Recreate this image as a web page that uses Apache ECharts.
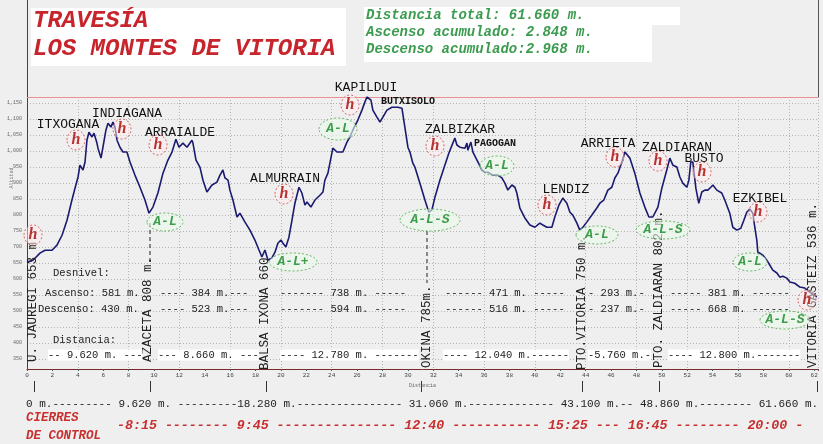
<!DOCTYPE html>
<html><head><meta charset="utf-8">
<script src="https://cdn.jsdelivr.net/npm/echarts/dist/echarts.min.js"></script>
<style>html,body{margin:0;padding:0;background:#efefef}#c{width:823px;height:444px}</style>
</head><body><div id="c"></div>
<script>
const distKm = [0,0.47,1.02,1.42,1.97,2.36,2.76,3.15,3.54,3.78,4.02,4.17,4.41,4.57,4.72,4.88,5.12,5.28,5.51,5.59,5.83,5.98,6.22,6.38,6.61,6.77,6.93,7.09,7.32,7.56,7.87,8.11,8.50,8.90,9.29,9.61,9.92,10.31,10.71,11.10,11.42,11.73,11.97,12.28,12.60,12.99,13.07,13.31,13.62,13.86,14.17,14.57,14.96,15.20,15.43,15.59,15.83,15.98,16.22,16.54,16.77,17.17,17.56,17.95,18.27,18.50,18.74,18.98,19.29,19.53,19.76,20.0,20.16,20.39,20.63,20.87,21.10,21.42,21.65,21.89,22.05,22.36,22.68,23.07,23.31,23.46,23.70,24.09,24.41,24.65,24.88,25.20,25.43,25.67,26.06,26.38,26.61,26.77,27.09,27.24,27.56,27.80,28.03,28.35,28.74,29.21,29.53,29.76,30.0,30.16,30.39,30.55,30.94,31.34,31.65,31.89,32.13,32.52,32.91,33.23,33.54,33.70,33.86,34.09,34.49,34.65,34.72,34.96,35.12,35.51,35.83,36.06,36.30,36.69,37.09,37.40,37.64,37.87,38.19,38.43,38.58,38.82,39.21,39.61,40.0,40.39,40.63,40.94,41.34,41.57,41.89,42.20,42.52,42.76,42.99,43.31,43.54,43.78,44.09,44.49,44.88,45.12,45.43,45.75,46.06,46.30,46.54,46.85,47.09,47.24,47.48,47.87,48.27,48.66,48.98,49.29,49.69,50.0,50.39,50.63,50.87,51.18,51.42,51.65,51.97,52.13,52.28,52.44,52.68,52.91,53.15,53.39,53.62,53.86,54.02,54.33,54.72,54.96,55.35,55.59,55.91,56.22,56.46,56.69,56.93,57.17,57.32,57.48,57.56,57.72,57.95,58.27,58.50,58.74,59.06,59.29,59.53,59.84,60.08,60.47,60.87,61.26,61.65,62.20];
const elevM = [653,659,681,690,690,706,737,784,847,884,919,956,941,966,1034,1059,1044,1056,1025,1009,978,1012,1066,1087,1075,1091,1075,1034,1012,997,997,966,925,887,847,806,825,869,931,972,997,1037,1012,1025,1012,1034,1025,972,950,909,872,894,903,925,941,916,909,878,847,794,806,778,753,722,691,669,691,659,666,684,712,722,712,700,731,784,837,887,869,831,841,825,847,862,872,909,931,1009,997,997,997,1028,1044,1066,1097,1128,1153,1169,1159,1128,1106,1091,1106,1128,1137,1137,1134,1075,1012,997,962,950,900,847,809,816,856,909,956,994,1025,1041,1019,1012,1009,1025,1003,1028,997,966,941,934,934,925,925,916,900,878,894,887,869,822,791,769,762,775,769,762,762,794,831,853,837,809,800,775,753,762,778,800,822,837,847,878,887,916,931,966,997,997,978,931,869,825,794,794,825,884,941,978,956,950,919,900,887,909,966,966,884,837,872,878,878,887,894,878,869,847,806,762,753,759,784,809,819,806,762,722,684,681,675,659,644,628,619,606,609,603,591,587,575,572,559,544];

const titleLines = ['TRAVESÍA', 'LOS MONTES DE VITORIA'];
const statLines = ['Distancia total: 61.660 m.', 'Ascenso acumulado: 2.848 m.', 'Descenso acumulado:2.968 m.'];
const peakNames = ['ITXOGANA','INDIAGANA','ARRAIALDE','ALMURRAIN','KAPILDUI','BUTXISOLO','ZALBIZKAR','PAGOGAN','LENDIZ','ARRIETA','ZALDIARAN','BUSTO','EZKIBEL'];
const pointNames = ['U. JAUREGI 653 m.','AZACETA 808 m.','BALSA IXONA 660','OKINA 785m.','PTO.VITORIA 750 m.','PTO. ZALDIARAN 802 m.','VITORIA GASTEIZ 536 m.'];
const supplyLabels = ['A-L','A-L+','A-L','A-L-S','A-L','A-L','A-L-S','A-L','A-L-S'];
const ascentRow = ['Ascenso: 581 m.','---- 384 m.---','------- 738 m. -----','------ 471 m. -----','- 293 m.-','----- 381 m. ------'];
const descentRow = ['Descenso: 430 m.','---- 523 m.---','------- 594 m. -----','------ 516 m. -----','- 237 m.-','----- 668 m. ------'];
const distanceRow = ['-- 9.620 m. ---','--- 8.660 m. ---','---- 12.780 m. -------','---- 12.040 m.------','-5.760 m.-','---- 12.800 m.-------'];
const cumDistText = '0 m.--------- 9.620 m. ---------18.280 m.---------------- 31.060 m.------------- 43.100 m.-- 48.860 m.-------- 61.660 m.';
const closeTimesText = '-8:15 -------- 9:45 --------------- 12:40 ----------- 15:25 --- 16:45 -------- 20:00 -';
const closeLabel = ['CIERRES', 'DE CONTROL'];

// ---- layout ----
const MONO = "'Liberation Mono','Courier New',monospace";
const peakPos = [[68,125],[127,114],[180,133],[285,179],[366,88],[408,101],[460,130],[495,143],[566,190],[608,144],[677,148],[704,159],[760,199]];
const smallPeaks = {5:true, 7:true};
const hPos = [[33,235],[76,140],[122,129],[158,145],[284,194],[350,105],[435,146],[547,205],[615,157],[658,161],[702,172],[758,212],[807,300]];
const alPos = [[165,222,18,9],[293,262,24,9],[338,129,19,11],[430,220,30,11],[497,166,17,10],[597,235,21,9],[663,230,27,9],[750,262,17,9],[785,320,25,9]];
const pointPos = [[33,362],[148,362],[265,370],[427,368],[582,370],[659,368],[813,368]];
const segX = [45,160,280,445,588,670];
const segX2 = [38,160,280,445,588,670];
const distX = [48,158,280,443,588,668];
const ctrlTickX = [34,150,266,421,582,659,817];

const g = [];
// frame lines
g.push({type:'line', shape:{x1:27.5,y1:0,x2:27.5,y2:97}, style:{stroke:'#7a2a2a', lineWidth:1}});
g.push({type:'line', shape:{x1:818.5,y1:0,x2:818.5,y2:98}, style:{stroke:'#555', lineWidth:1}});
// title box
g.push({type:'rect', shape:{x:31,y:8,width:315,height:58}, style:{fill:'#fff'}});
titleLines.forEach((t,i)=>g.push({type:'text', x:33, y:[21,49][i], style:{text:t, fill:'#c8242c', font:'italic bold 24px '+MONO, align:'left', verticalAlign:'middle'}}));
// stats box
g.push({type:'rect', shape:{x:364,y:7,width:316,height:18}, style:{fill:'#fff'}});
g.push({type:'rect', shape:{x:364,y:25,width:288,height:37}, style:{fill:'#fff'}});
statLines.forEach((t,i)=>g.push({type:'text', x:366, y:[15,32,49][i], style:{text:t, fill:'#3b9b4f', font:'italic bold 14px '+MONO, align:'left', verticalAlign:'middle'}}));
// peaks
peakNames.forEach((t,i)=>g.push({type:'text', x:peakPos[i][0], y:peakPos[i][1], z:50, style:{text:t, fill:'#111', font:(smallPeaks[i]?'bold 10px ':'13px ')+MONO, align:'center', verticalAlign:'middle'}}));
// h circles
hPos.forEach(p=>{
  g.push({type:'ellipse', z:40, shape:{cx:p[0],cy:p[1],rx:9,ry:10}, style:{fill:'rgba(255,240,240,0.5)', stroke:'#d46a6a', lineWidth:1, lineDash:[2,2]}});
  g.push({type:'text', z:41, x:p[0], y:p[1], style:{text:'h', fill:'#b83232', font:"italic bold 16px 'Liberation Serif',serif", align:'center', verticalAlign:'middle'}});
});
// A-L ellipses
supplyLabels.forEach((t,i)=>{
  const p = alPos[i];
  g.push({type:'ellipse', z:40, shape:{cx:p[0],cy:p[1],rx:p[2],ry:p[3]}, style:{fill:'rgba(235,250,235,0.6)', stroke:'#6cb86c', lineWidth:1, lineDash:[2,2]}});
  g.push({type:'text', z:41, x:p[0], y:p[1], style:{text:t, fill:'#3d9c4a', font:'italic bold 13px '+MONO, align:'center', verticalAlign:'middle'}});
});
// dashed guide lines
g.push({type:'line', z:30, shape:{x1:150,y1:223,x2:150,y2:262}, style:{stroke:'#222', lineWidth:1, lineDash:[4,3]}});
g.push({type:'line', z:30, shape:{x1:427,y1:231,x2:427,y2:283}, style:{stroke:'#222', lineWidth:1, lineDash:[4,3]}});
// vertical checkpoint names
pointNames.forEach((t,i)=>g.push({type:'text', z:30, x:pointPos[i][0], y:pointPos[i][1], rotation:Math.PI/2, style:{text:t, fill:'#222', font:'12.5px '+MONO, align:'left', verticalAlign:'middle'}}));
// lower texts
const small = '10.5px '+MONO;
g.push({type:'text', z:30, x:53, y:273, style:{text:'Desnivel:', fill:'#222', font:small, verticalAlign:'middle'}});
ascentRow.forEach((t,i)=>g.push({type:'text', z:30, x:segX[i], y:293, style:{text:t, fill:'#222', font:small, verticalAlign:'middle'}}));
descentRow.forEach((t,i)=>g.push({type:'text', z:30, x:segX2[i], y:309, style:{text:t, fill:'#222', font:small, verticalAlign:'middle'}}));
g.push({type:'text', z:30, x:53, y:340, style:{text:'Distancia:', fill:'#222', font:small, verticalAlign:'middle'}});
distanceRow.forEach((t,i)=>g.push({type:'text', z:30, x:distX[i], y:355, style:{text:t, fill:'#222', font:small, verticalAlign:'middle', backgroundColor:'#fff'}}));
// control ticks and cumulative distance
ctrlTickX.forEach(x=>g.push({type:'line', shape:{x1:x+0.5,y1:381,x2:x+0.5,y2:392}, style:{stroke:'#333', lineWidth:1}}));
g.push({type:'text', x:26, y:404, style:{text:cumDistText, fill:'#222', font:'11px '+MONO, verticalAlign:'middle'}});
g.push({type:'text', x:26, y:418, style:{text:closeLabel[0], fill:'#c8302f', font:'italic bold 12.5px '+MONO, verticalAlign:'middle'}});
g.push({type:'text', x:26, y:436, style:{text:closeLabel[1], fill:'#c8302f', font:'italic bold 12.5px '+MONO, verticalAlign:'middle'}});
g.push({type:'text', x:117, y:426, style:{text:closeTimesText, fill:'#c8302f', font:'italic bold 13.3px '+MONO, verticalAlign:'middle'}});
// y axis name
g.push({type:'text', x:12, y:178, rotation:Math.PI/2, style:{text:'Altitud', fill:'#777', font:'5px '+MONO, align:'center', verticalAlign:'middle'}});
g.forEach(e=>e.silent=true);

const chart = echarts.init(document.getElementById('c'));
chart.setOption({
  animation:false,
  backgroundColor:'#efefef',
  grid:{left:27, right:5, top:97, bottom:75},
  xAxis:[{
    type:'value', min:0, max:62.3, interval:2,
    name:'Distancia', nameLocation:'middle', nameGap:13, nameTextStyle:{fontSize:5, color:'#666', fontFamily:MONO},
    axisLine:{lineStyle:{color:'#7a2a2a'}}, axisTick:{show:true, length:2, lineStyle:{color:'#555'}},
    axisLabel:{fontSize:6, color:'#444', margin:3, fontFamily:MONO, formatter:v=>(Math.abs(v%2)<1e-6?String(v):'')},
    splitLine:{show:false}
  },{
    type:'value', min:0, max:62.3, interval:4, position:'bottom',
    axisLine:{show:false}, axisTick:{show:false}, axisLabel:{show:false},
    splitLine:{show:true, lineStyle:{color:'#b4b4b4', type:[1,2]}}
  }],
  yAxis:{
    type:'value', min:319, max:'dataMax', minInterval:50, maxInterval:50,
    axisLine:{show:true, lineStyle:{color:'#7a2a2a'}}, axisTick:{show:false},
    axisLabel:{fontSize:5, color:'#666', margin:5, showMinLabel:false, showMaxLabel:false, fontFamily:MONO},
    splitLine:{show:true, lineStyle:{color:'#b4b4b4', type:[1,2]}}
  },
  series:[{
    type:'line', xAxisIndex:0, data:distKm.map((d,i)=>[d, elevM[i]]),
    showSymbol:false, lineStyle:{color:'#1a1a70', width:1.6}, z:20,
    markLine:{silent:true, symbol:'none', label:{show:false}, lineStyle:{color:'#e89090', type:'solid', width:1}, data:[{type:'max'}]}
  }],
  graphic:g
});
</script></body></html>
